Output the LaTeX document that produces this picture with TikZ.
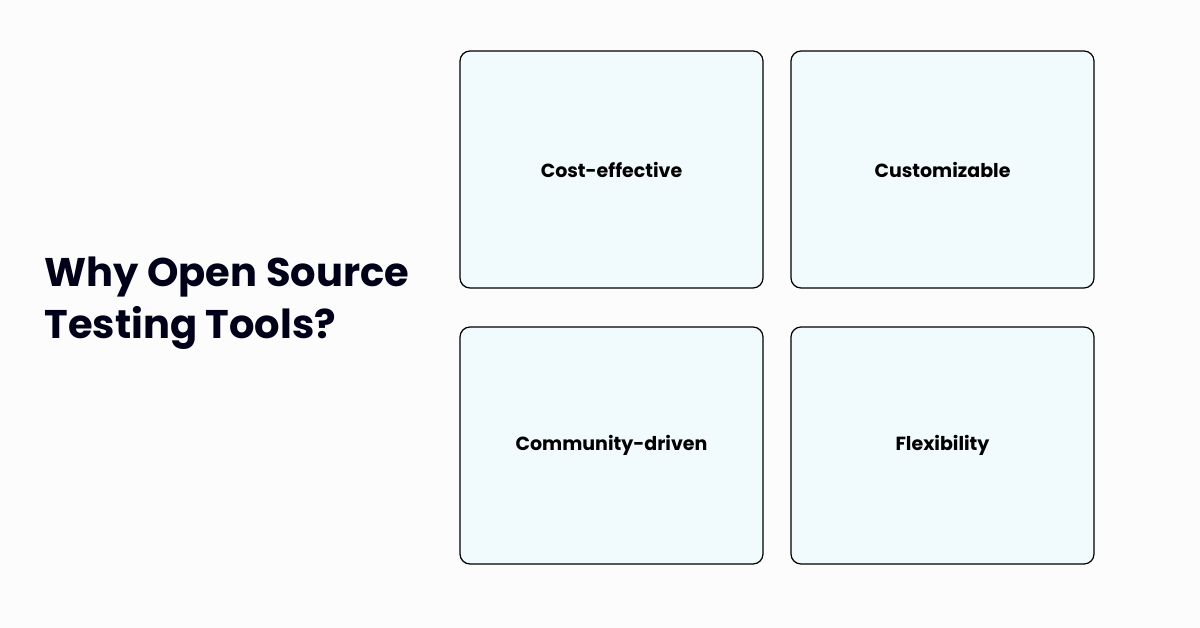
\documentclass[tikz,border=0pt]{standalone}
\usepackage{fontspec}
\setmainfont{Poppins}
\begin{document}
\begin{tikzpicture}[x=1pt,y=-1pt,
  card/.style={draw=black,line width=1.2pt,fill=cardfill,rounded corners=10pt,minimum width=303pt,minimum height=237pt,font=\fontsize{19}{22}\selectfont\bfseries},
]
\definecolor{cardfill}{HTML}{F1FAFD}
\fill[white!99!black] (0,0) rectangle (1200,628);
\useasboundingbox (0,0) rectangle (1200,628);
\node[anchor=west,align=left,font=\fontsize{40}{52}\selectfont\bfseries,text=black!90!blue] (title) at (41,303) {Why Open Source\\Testing Tools?};
\node[card] (a) at (611.5,169.5) {Cost-effective};
\node[card] (b) at (942.5,169.5) {Customizable};
\node[card] (c) at (611.5,445.5) {Community-driven};
\node[card] (d) at (942.5,445.5) {Flexibility};
\end{tikzpicture}
\end{document}
